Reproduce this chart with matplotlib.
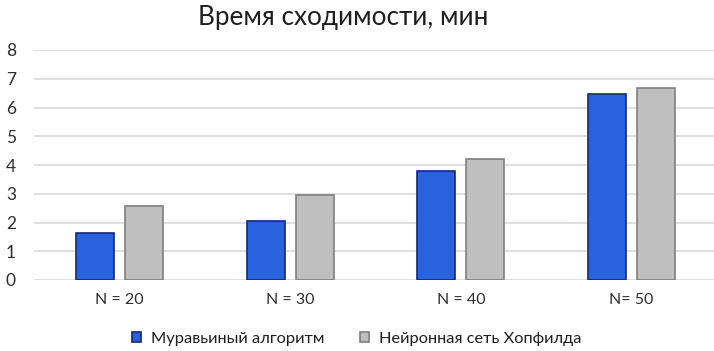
import matplotlib
matplotlib.use("Agg")
import matplotlib.pyplot as plt
import numpy as np

categories = ["N = 20", "N = 30", "N = 40", "N= 50"]
ant_algorithm = [1.62, 2.06, 3.79, 6.47]
hopfield_net = [2.58, 2.96, 4.20, 6.67]
series_names = ["Муравьиный алгоритм", "Нейронная сеть Хопфилда"]
title = "Время сходимости, мин"

plt.rcParams["font.family"] = ["Lato", "DejaVu Sans"]

W, H = 714, 351
fig = plt.figure(figsize=(W / 100, H / 100), dpi=100)
ax = fig.add_axes([34 / W, 71 / H, (717 - 34) / W, 230 / H])

x = np.arange(len(categories))
bw = 0.223
off = 0.1435
ax.bar(x - off, ant_algorithm, bw, color="#2862DC", edgecolor="#14287A",
       linewidth=1.2, label=series_names[0], zorder=3)
ax.bar(x + off, hopfield_net, bw, color="#BFBFBF", edgecolor="#7F7F7F",
       linewidth=1.2, label=series_names[1], zorder=3)

ax.set_xlim(-0.5, 3.5)
ax.set_ylim(0, 8)
ax.set_yticks(range(0, 9))
ax.set_xticks(x)
ax.set_xticklabels(categories)
ax.yaxis.grid(True, color="#D9D9D9", linewidth=1.2, zorder=0)
ax.set_axisbelow(True)
for s in ax.spines.values():
    s.set_visible(False)
ax.tick_params(axis="both", length=0, labelsize=11.5, colors="#2E2E2E")
ax.tick_params(axis="y", labelsize=12.5, pad=13)
ax.tick_params(axis="x", pad=9)

fig.text(343 / W, 1 - 17 / H, title, ha="center", va="center",
         fontsize=18.8, color="#1E1E1E")

fig.legend(loc="center", bbox_to_anchor=(357 / W, 1 - 339 / H), ncol=2,
           frameon=False, fontsize=11.8, handlelength=0.55, handleheight=0.55,
           handletextpad=0.6, columnspacing=2.2, labelcolor="#1E1E1E")

fig.savefig("out.png", dpi=100)
